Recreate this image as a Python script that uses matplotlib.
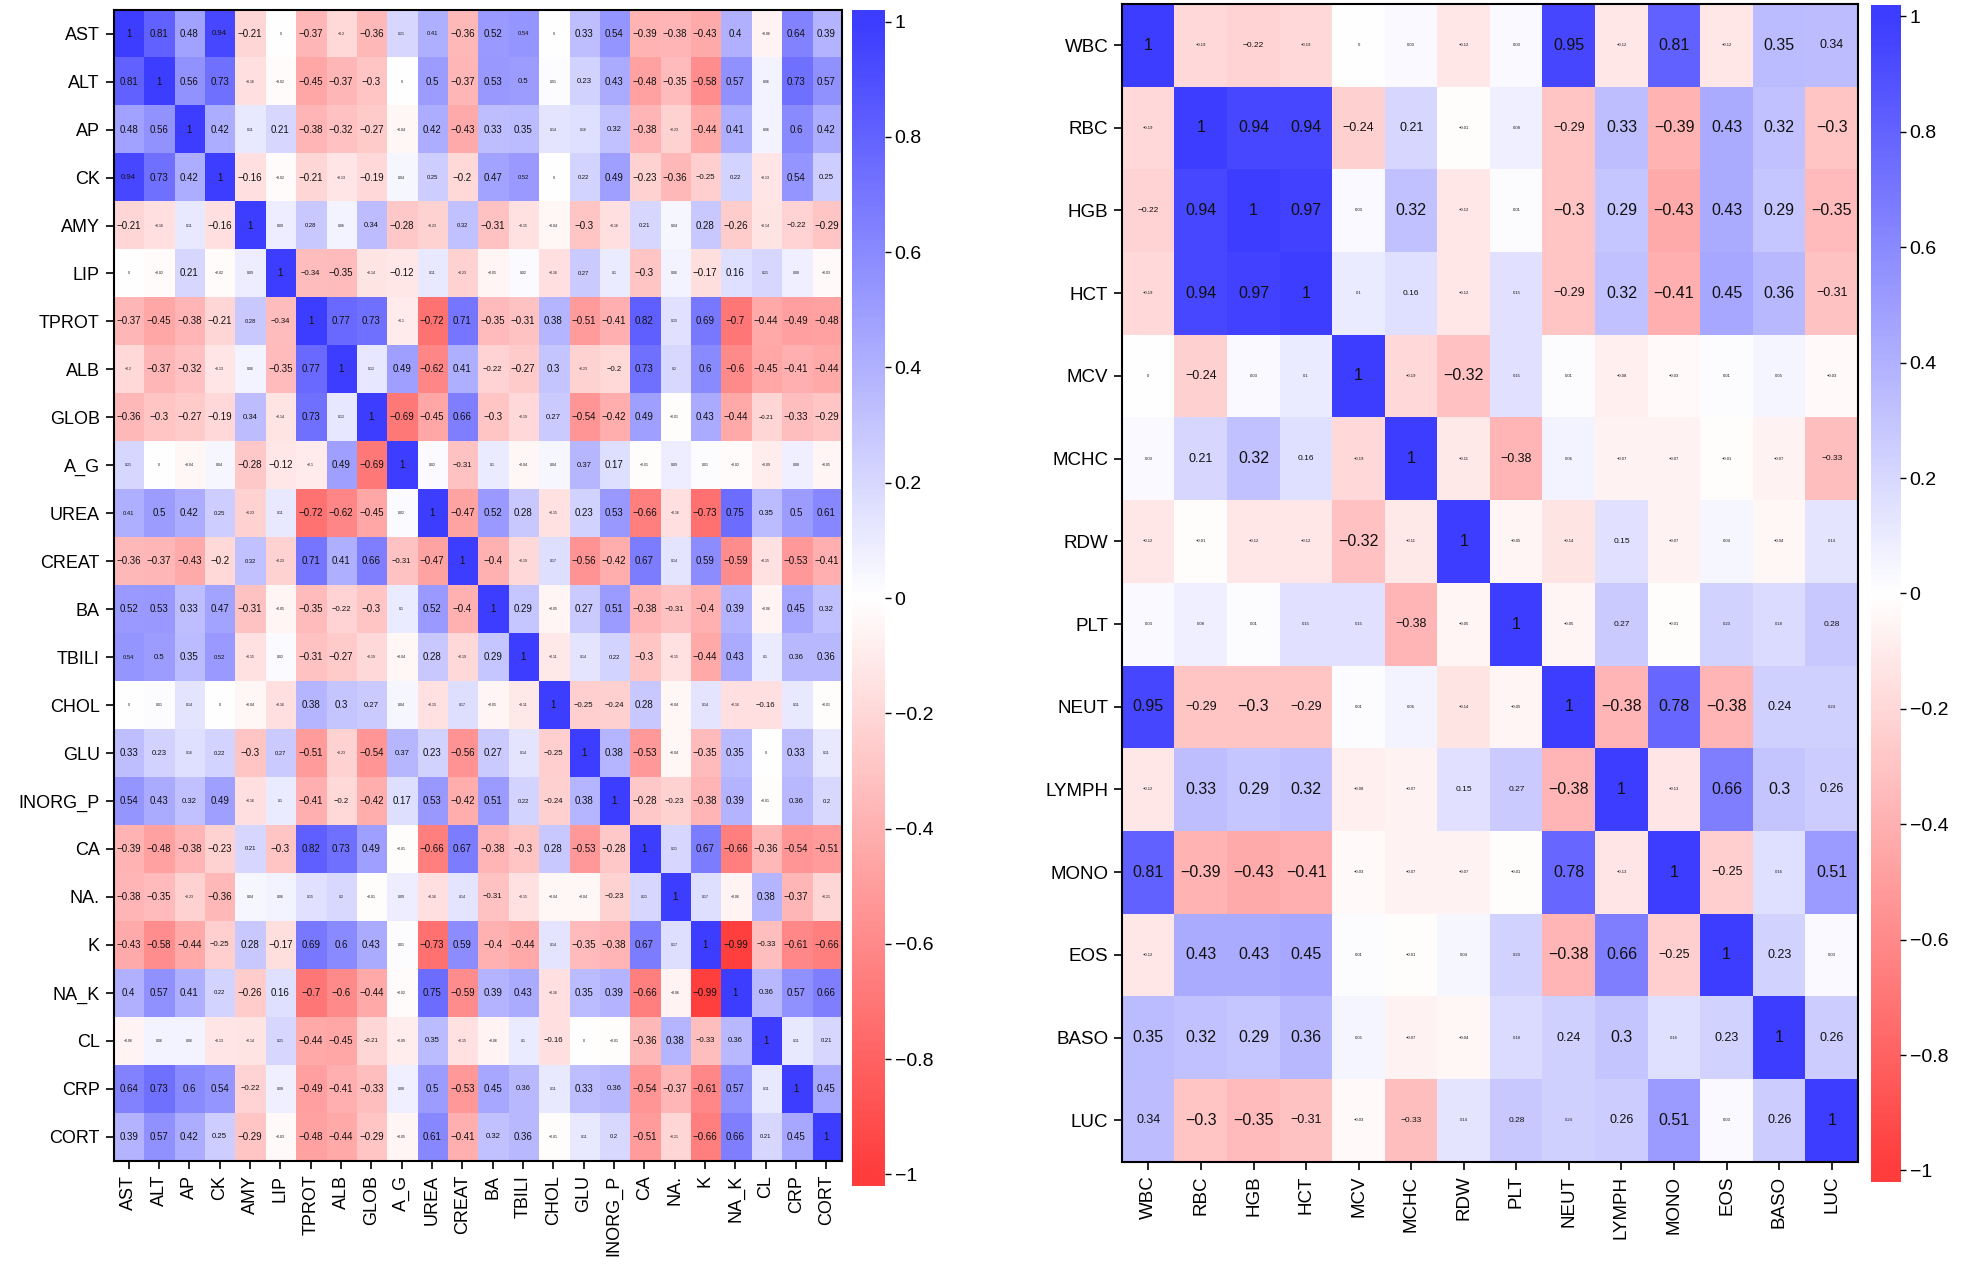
import numpy as np
import matplotlib.pyplot as plt
from matplotlib.colors import LinearSegmentedColormap

plt.rcParams['font.family'] = ['Liberation Sans', 'DejaVu Sans']

# ---- left panel: biochemistry correlations (upper triangle, row by row) ----
chem_vars = ['AST', 'ALT', 'AP', 'CK', 'AMY', 'LIP', 'TPROT', 'ALB', 'GLOB', 'A_G',
             'UREA', 'CREAT', 'BA', 'TBILI', 'CHOL', 'GLU', 'INORG_P', 'CA', 'NA.',
             'K', 'NA_K', 'CL', 'CRP', 'CORT']
chem_upper = [
    [1, 0.81, 0.48, 0.94, -0.21, 0, -0.37, -0.2, -0.36, 0.21, 0.41, -0.36, 0.52, 0.54, 0, 0.33, 0.54, -0.39, -0.38, -0.43, 0.4, -0.06, 0.64, 0.39],
    [1, 0.56, 0.73, -0.16, -0.02, -0.45, -0.37, -0.3, 0, 0.5, -0.37, 0.53, 0.5, 0.01, 0.23, 0.43, -0.48, -0.35, -0.58, 0.57, 0.06, 0.73, 0.57],
    [1, 0.42, 0.11, 0.21, -0.38, -0.32, -0.27, -0.04, 0.42, -0.43, 0.33, 0.35, 0.14, 0.16, 0.32, -0.38, -0.23, -0.44, 0.41, 0.06, 0.6, 0.42],
    [1, -0.16, -0.02, -0.21, -0.13, -0.19, 0.04, 0.25, -0.2, 0.47, 0.52, 0, 0.22, 0.49, -0.23, -0.36, -0.25, 0.22, -0.13, 0.54, 0.25],
    [1, 0.09, 0.28, 0.06, 0.34, -0.28, -0.23, 0.32, -0.31, -0.15, -0.04, -0.3, -0.16, 0.21, 0.04, 0.28, -0.26, -0.14, -0.22, -0.29],
    [1, -0.34, -0.35, -0.14, -0.12, 0.11, -0.23, -0.05, 0.02, -0.16, 0.27, 0.1, -0.3, 0.06, -0.17, 0.16, 0.21, 0.08, -0.03],
    [1, 0.77, 0.73, -0.1, -0.72, 0.71, -0.35, -0.31, 0.38, -0.51, -0.41, 0.82, 0.15, 0.69, -0.7, -0.44, -0.49, -0.48],
    [1, 0.12, 0.49, -0.62, 0.41, -0.22, -0.27, 0.3, -0.23, -0.2, 0.73, 0.2, 0.6, -0.6, -0.45, -0.41, -0.44],
    [1, -0.69, -0.45, 0.66, -0.3, -0.19, 0.27, -0.54, -0.42, 0.49, -0.01, 0.43, -0.44, -0.21, -0.33, -0.29],
    [1, 0.02, -0.31, 0.1, -0.04, 0.04, 0.37, 0.17, -0.01, 0.09, 0.01, -0.02, -0.09, 0.08, -0.05],
    [1, -0.47, 0.52, 0.28, -0.15, 0.23, 0.53, -0.66, -0.16, -0.73, 0.75, 0.35, 0.5, 0.61],
    [1, -0.4, -0.19, 0.17, -0.56, -0.42, 0.67, 0.14, 0.59, -0.59, -0.15, -0.53, -0.41],
    [1, 0.29, -0.05, 0.27, 0.51, -0.38, -0.31, -0.4, 0.39, -0.06, 0.45, 0.32],
    [1, -0.11, 0.14, 0.22, -0.3, -0.15, -0.44, 0.43, 0.1, 0.36, 0.36],
    [1, -0.25, -0.24, 0.28, -0.04, 0.14, -0.16, -0.16, 0.11, -0.01],
    [1, 0.38, -0.53, -0.04, -0.35, 0.35, 0, 0.33, 0.11],
    [1, -0.28, -0.23, -0.38, 0.39, -0.01, 0.36, 0.2],
    [1, 0.21, 0.67, -0.66, -0.36, -0.54, -0.51],
    [1, 0.17, -0.06, 0.38, -0.37, -0.21],
    [1, -0.99, -0.33, -0.61, -0.66],
    [1, 0.36, 0.57, 0.66],
    [1, 0.11, 0.21],
    [1, 0.45],
    [1],
]
# evidence class of each coefficient (0 weak .. 3 strong), shown as text size
chem_sig = [
    [3, 3, 3, 2, 3, 0, 3, 0, 3, 0, 1, 3, 3, 1, 0, 3, 3, 3, 3, 3, 3, 0, 3, 3],
    [3, 3, 3, 0, 0, 3, 3, 3, 0, 3, 3, 3, 2, 0, 2, 3, 3, 3, 3, 3, 0, 3, 3],
    [3, 3, 0, 3, 3, 3, 3, 0, 3, 3, 3, 3, 0, 0, 2, 3, 0, 3, 3, 0, 3, 3],
    [3, 3, 0, 3, 0, 3, 0, 1, 3, 3, 1, 0, 1, 3, 3, 3, 2, 1, 0, 3, 2],
    [3, 0, 1, 0, 2, 3, 0, 1, 3, 0, 0, 3, 0, 1, 0, 3, 3, 0, 2, 3],
    [3, 2, 3, 0, 3, 0, 0, 0, 0, 0, 1, 0, 3, 0, 3, 3, 0, 0, 0],
    [3, 3, 3, 0, 3, 3, 3, 3, 3, 3, 3, 3, 0, 3, 3, 3, 3, 3],
    [3, 0, 3, 3, 3, 2, 3, 3, 0, 2, 3, 0, 3, 3, 3, 3, 3],
    [3, 3, 3, 3, 3, 0, 2, 3, 3, 3, 0, 3, 3, 1, 3, 3],
    [3, 0, 2, 0, 0, 0, 2, 3, 0, 0, 0, 0, 0, 0, 0],
    [3, 3, 3, 3, 0, 3, 3, 3, 0, 3, 3, 2, 3, 3],
    [3, 3, 0, 0, 3, 3, 3, 0, 3, 3, 0, 3, 3],
    [3, 3, 0, 3, 3, 3, 2, 3, 3, 0, 3, 2],
    [3, 0, 0, 1, 3, 0, 3, 3, 0, 2, 3],
    [3, 2, 2, 3, 0, 0, 0, 2, 0, 0],
    [3, 3, 3, 0, 3, 3, 0, 3, 0],
    [3, 3, 2, 3, 3, 0, 2, 1],
    [3, 0, 3, 3, 3, 3, 3],
    [3, 0, 0, 3, 3, 0],
    [3, 3, 2, 3, 3],
    [3, 2, 3, 3],
    [3, 0, 1],
    [3, 3],
    [3],
]

# ---- right panel: haematology correlations ----
blood_vars = ['WBC', 'RBC', 'HGB', 'HCT', 'MCV', 'MCHC', 'RDW', 'PLT', 'NEUT',
              'LYMPH', 'MONO', 'EOS', 'BASO', 'LUC']
blood_upper = [
    [1, -0.19, -0.22, -0.19, 0, 0.03, -0.12, 0.03, 0.95, -0.12, 0.81, -0.12, 0.35, 0.34],
    [1, 0.94, 0.94, -0.24, 0.21, -0.01, 0.08, -0.29, 0.33, -0.39, 0.43, 0.32, -0.3],
    [1, 0.97, 0.03, 0.32, -0.12, 0.01, -0.3, 0.29, -0.43, 0.43, 0.29, -0.35],
    [1, 0.1, 0.16, -0.12, 0.15, -0.29, 0.32, -0.41, 0.45, 0.36, -0.31],
    [1, -0.19, -0.32, 0.15, 0.01, -0.08, -0.03, 0.01, 0.05, -0.03],
    [1, -0.11, -0.38, 0.06, -0.07, -0.07, -0.01, -0.07, -0.33],
    [1, -0.05, -0.14, 0.15, -0.07, 0.04, -0.04, 0.14],
    [1, -0.05, 0.27, -0.01, 0.23, 0.18, 0.28],
    [1, -0.38, 0.78, -0.38, 0.24, 0.24],
    [1, -0.13, 0.66, 0.3, 0.26],
    [1, -0.25, 0.16, 0.51],
    [1, 0.23, 0.03],
    [1, 0.26],
    [1],
]
blood_sig = [
    [3, 0, 1, 0, 0, 0, 0, 0, 3, 0, 3, 0, 3, 2],
    [3, 3, 3, 2, 2, 0, 0, 2, 3, 3, 3, 3, 3],
    [3, 3, 0, 3, 0, 0, 3, 3, 3, 3, 3, 3],
    [3, 0, 1, 0, 0, 2, 3, 3, 3, 3, 2],
    [3, 0, 3, 0, 0, 0, 0, 0, 0, 0],
    [3, 0, 2, 0, 0, 0, 0, 0, 1],
    [3, 0, 0, 1, 0, 0, 0, 0],
    [3, 0, 1, 0, 0, 0, 1],
    [3, 3, 3, 3, 2, 0],
    [3, 0, 3, 3, 2],
    [3, 2, 0, 3],
    [3, 2, 0],
    [3, 2],
    [3],
]

cbar_ticks = [1, 0.8, 0.6, 0.4, 0.2, 0, -0.2, -0.4, -0.6, -0.8, -1]

cmap = LinearSegmentedColormap.from_list('rwb', ['#FF3D3D', '#FFFFFF', '#3D3DFF'], N=256)


def full_matrix(upper, dtype=float):
    n = len(upper)
    m = np.zeros((n, n), dtype=dtype)
    for i, row in enumerate(upper):
        m[i, i:] = row
        m[i:, i] = row
    return m


def fmt(v):
    s = f"{v:.2f}".rstrip('0').rstrip('.')
    if s in ('-0', ''):
        s = '0'
    return s.replace('-', '\u2212')


def draw_heatmap(ax, names, upper, sig, sizes, label_size):
    m = full_matrix(upper)
    codes = full_matrix(sig, dtype=int)
    n = len(names)
    ax.imshow(m, cmap=cmap, vmin=-1, vmax=1, aspect='auto', interpolation='nearest')
    for i in range(n):
        for j in range(n):
            ax.text(j, i, fmt(m[i, j]), ha='center', va='center',
                    fontsize=sizes[codes[i, j]], color='#111111')
    ax.set_xticks(range(n))
    ax.set_yticks(range(n))
    ax.set_xticklabels(names, rotation=90, fontsize=label_size)
    ax.set_yticklabels(names, fontsize=label_size)
    ax.tick_params(length=6, width=1.2, pad=4)
    for sp in ax.spines.values():
        sp.set_linewidth(1.5)


def draw_colorbar(cax, label_size):
    grad = np.linspace(1.02, -1.02, 400)[:, None]
    cax.imshow(grad, cmap=cmap, vmin=-1, vmax=1, aspect='auto',
               extent=[0, 1, -1.02, 1.02])
    cax.set_xticks([])
    cax.yaxis.tick_right()
    cax.set_yticks(cbar_ticks)
    cax.set_yticklabels([fmt(t) for t in cbar_ticks], fontsize=label_size)
    cax.tick_params(axis='y', length=4, width=1, pad=3)
    for sp in cax.spines.values():
        sp.set_visible(False)


fig = plt.figure(figsize=(19.61, 12.74), dpi=100)

ax1 = fig.add_axes([0.0579, 0.0889, 0.3713, 0.9035])
draw_heatmap(ax1, chem_vars, chem_upper, chem_sig, {0: 2.5, 1: 4.2, 2: 5.6, 3: 7}, 13)
cax1 = fig.add_axes([0.4345, 0.0691, 0.0168, 0.923])
draw_colorbar(cax1, 14)

ax2 = fig.add_axes([0.5722, 0.0882, 0.3753, 0.9089])
draw_heatmap(ax2, blood_vars, blood_upper, blood_sig, {0: 3, 1: 6, 2: 9, 3: 11.5}, 13.5)
cax2 = fig.add_axes([0.9541, 0.0722, 0.0148, 0.924])
draw_colorbar(cax2, 14)

plt.savefig("out.png", dpi=100)
plt.close()
